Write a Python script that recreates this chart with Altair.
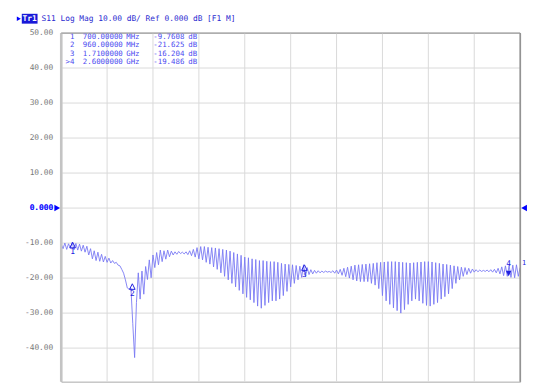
import altair as alt
import pandas as pd

# ---------------- data ----------------
START_MHZ = 650
STOP_MHZ = 2650

s11_db = [
    -10.3, -11.6, -10.0, -11.8, -10.2, -11.5, -9.8, -11.9, -10.1, -12.0,
    -10.3, -12.3, -10.6, -12.6, -10.9, -13.4, -11.6, -14.5, -12.2, -15.0,
    -12.6, -15.2, -13.2, -15.4, -13.8, -15.5, -14.3, -15.7, -15.0, -15.8,
    -15.5, -16.3, -16.5, -17.5, -18.6, -20.5, -22.8, -23.2, -22.9, -33.0,
    -42.7, -27.0, -18.5, -26.0, -18.0, -24.6, -16.7, -20.4, -14.8, -19.9,
    -13.4, -17.0, -12.7, -16.2, -12.0, -15.3, -12.2, -14.6, -12.0, -13.9,
    -12.3, -13.4, -12.5, -13.2, -12.4, -13.0, -12.6, -13.1, -12.5, -13.3,
    -12.2, -13.6, -11.8, -14.0, -11.3, -14.5, -11.0, -14.8, -11.0, -15.5,
    -11.2, -16.0, -11.3, -16.8, -11.4, -17.5, -11.6, -18.5, -11.8, -19.5,
    -12.0, -20.5, -12.3, -21.5, -12.7, -22.5, -13.1, -23.5, -13.5, -24.5,
    -14.0, -25.5, -14.2, -26.2, -14.5, -27.0, -14.7, -28.0, -15.0, -28.6,
    -15.0, -27.8, -15.2, -27.0, -15.3, -26.5, -15.3, -26.5, -15.5, -26.0,
    -15.8, -25.0, -16.0, -23.8, -16.1, -22.5, -16.2, -21.5, -16.4, -20.5,
    -16.6, -19.8, -16.2, -19.5, -17.0, -19.0, -17.6, -18.8, -17.8, -18.6,
    -17.9, -18.5, -18.0, -18.4, -18.0, -18.3, -18.1, -18.4, -17.9, -18.6,
    -17.7, -18.8, -17.5, -19.2, -17.2, -19.6, -16.9, -20.0, -16.6, -20.5,
    -16.3, -20.8, -16.2, -21.0, -16.1, -21.0, -16.0, -21.0, -15.9, -21.5,
    -15.8, -22.0, -15.6, -23.0, -15.5, -25.0, -15.4, -26.5, -15.3, -27.5,
    -15.3, -28.5, -15.3, -29.3, -15.4, -30.0, -15.5, -29.0, -15.6, -27.5,
    -15.7, -26.5, -15.6, -26.0, -15.5, -26.5, -15.4, -27.2, -15.3, -27.8,
    -15.3, -28.0, -15.4, -27.5, -15.6, -27.0, -15.8, -26.0, -16.0, -25.3,
    -16.1, -24.5, -16.3, -23.0, -16.5, -21.5, -16.7, -20.5, -16.9, -19.5,
    -17.0, -19.0, -17.2, -18.6, -17.4, -18.3, -17.6, -18.2, -17.7, -18.1,
    -17.8, -18.1, -17.7, -18.2, -17.6, -18.3, -17.5, -18.5, -17.2, -18.8,
    -16.8, -19.3, -16.5, -19.5, -16.4, -19.8, -16.3, -19.9, -16.2, -19.5,
    -17.0,
]

marker_ids = ["1", "2", "3", "4"]
marker_table_ids = ["1", "2", "3", ">4"]
marker_freq_mhz = [700, 960, 1710, 2600]
marker_db = [-9.7608, -21.625, -16.204, -19.486]
marker_freq_txt = ["700.00000", "960.00000", "1.7100000", "2.6000000"]
marker_unit_txt = ["MHz", "MHz", "GHz", "GHz"]
active_marker = "4"

y_ticks = [50, 40, 30, 20, 10, 0, -10, -20, -30, -40]
y_tick_labels = ["50.00", "40.00", "30.00", "20.00", "10.00", "0.000",
                 "-10.00", "-20.00", "-30.00", "-40.00"]
x_grid = [850, 1050, 1250, 1450, 1650, 1850, 2050, 2250, 2450]

header_text = "S11 Log Mag 10.00 dB/ Ref 0.000 dB [F1 M]"
trace_tag = "Tr1"

# ---------------- layout / style ----------------
W = 466
H = 354
PX_PER_10DB = 35.55
Y_BOTTOM = 50 - H / PX_PER_10DB * 10

BLUE = "#2020e0"
TRACE = "#7878f4"
GRID = "#d9d9d9"
MONO = "DejaVu Sans Mono"

n = len(s11_db)
step = (STOP_MHZ - START_MHZ) / (n - 1)
freqs = [START_MHZ + i * step for i in range(n)]
trace_df = pd.DataFrame({"f": freqs, "db": s11_db})

x_scale = alt.Scale(domain=[START_MHZ, STOP_MHZ], nice=False, zero=False)
y_scale = alt.Scale(domain=[Y_BOTTOM, 50], nice=False, zero=False)

X = lambda: alt.X("f:Q", scale=x_scale, axis=None)
Y = lambda: alt.Y("db:Q", scale=y_scale, axis=None)

# grid lines
ygrid_df = pd.DataFrame({"db": y_ticks, "lbl": y_tick_labels})
xgrid_df = pd.DataFrame({"f": x_grid})
ygrid = alt.Chart(ygrid_df).mark_rule(color=GRID, strokeWidth=1).encode(
    y=Y(), x=alt.value(0), x2=alt.value(W))
xgrid = alt.Chart(xgrid_df).mark_rule(color=GRID, strokeWidth=1).encode(
    x=X(), y=alt.value(0), y2=alt.value(H))
ylabels = alt.Chart(ygrid_df).mark_text(font=MONO, fontSize=8, align="right", baseline="middle").encode(
    y=Y(), x=alt.value(-8), text="lbl:N",
    color=alt.condition("datum.db == 0", alt.value("#1c1cff"), alt.value("#7a7a7a")),
)
ylabel0 = alt.Chart(ygrid_df[ygrid_df["db"] == 0]).mark_text(
    font=MONO, fontSize=8, align="right", baseline="middle", fontWeight="bold", color="#1c1cff").encode(
    y=Y(), x=alt.value(-8), text="lbl:N")

trace = alt.Chart(trace_df).mark_line(color=TRACE, strokeWidth=0.9, clip=True).encode(x=X(), y=Y())

one = pd.DataFrame({"k": [0]})

# plot frame
left_edge = alt.Chart(one).mark_rule(color="#c4c4c4", strokeWidth=2.5).encode(
    x=alt.value(0), y=alt.value(0), y2=alt.value(H))
right_edge = alt.Chart(one).mark_rule(color="#8f8f8f", strokeWidth=1.5).encode(
    x=alt.value(W), y=alt.value(0), y2=alt.value(H))
top_edge = alt.Chart(one).mark_rule(color="#9a9a9a", strokeWidth=1).encode(
    x=alt.value(0), x2=alt.value(W), y=alt.value(0))

# reference-level arrows at 0 dB
ref_df = pd.DataFrame({"db": [0]})
ref_left = alt.Chart(ref_df).mark_point(shape="triangle-right", filled=True, color="#0000ff",
                                        size=45, opacity=1).encode(x=alt.value(-4), y=Y())
ref_right = alt.Chart(ref_df).mark_point(shape="triangle-left", filled=True, color="#0000ff",
                                         size=45, opacity=1).encode(x=alt.value(W + 4), y=Y())

# markers on the trace
mk_df = pd.DataFrame({"f": marker_freq_mhz, "db": marker_db, "id": marker_ids})
inactive = mk_df[mk_df["id"] != active_marker]
active = mk_df[mk_df["id"] == active_marker]

mk_tri = alt.Chart(inactive).mark_point(
    shape="M0,0 L-1,2 L1,2 Z", filled=False, size=32, stroke=BLUE, strokeWidth=1, opacity=1
).encode(x=X(), y=Y())
mk_lbl = alt.Chart(inactive).mark_text(font=MONO, fontSize=8, color=BLUE, dy=10).encode(
    x=X(), y=Y(), text="id:N")
ac_tri = alt.Chart(active).mark_point(
    shape="M0,0 L-1,-2 L1,-2 Z", filled=True, size=32, color=BLUE, opacity=1
).encode(x=X(), y=Y())
ac_lbl = alt.Chart(active).mark_text(font=MONO, fontSize=8, color=BLUE, dy=-12).encode(
    x=X(), y=Y(), text="id:N")

end_tag = alt.Chart(pd.DataFrame({"t": ["1"]})).mark_text(
    font=MONO, fontSize=7, color=BLUE, align="left").encode(
    x=alt.value(W + 2), y=alt.value(233.5), text="t:N")

# marker table
table_layers = []
TBL_COLOR = "#4a4af0"
for k in range(len(marker_ids)):
    yy = 4 + 8.6 * k
    row = pd.DataFrame({
        "id": [marker_table_ids[k]],
        "freq": [marker_freq_txt[k]],
        "unit": [marker_unit_txt[k]],
        "val": [f"{marker_db[k]:.5g}"],
        "db": ["dB"],
    })
    rc = alt.Chart(row)
    table_layers += [
        rc.mark_text(font=MONO, fontSize=7.5, color=TBL_COLOR, align="right").encode(
            x=alt.value(13.5), y=alt.value(yy), text="id:N"),
        rc.mark_text(font=MONO, fontSize=7.5, color=TBL_COLOR, align="left").encode(
            x=alt.value(22), y=alt.value(yy), text="freq:N"),
        rc.mark_text(font=MONO, fontSize=7.5, color=TBL_COLOR, align="left").encode(
            x=alt.value(66), y=alt.value(yy), text="unit:N"),
        rc.mark_text(font=MONO, fontSize=7.5, color=TBL_COLOR, align="left").encode(
            x=alt.value(93.5), y=alt.value(yy), text="val:N"),
        rc.mark_text(font=MONO, fontSize=7.5, color=TBL_COLOR, align="left").encode(
            x=alt.value(129), y=alt.value(yy), text="db:N"),
    ]

# header line
hdr_df = pd.DataFrame({"tag": [trace_tag], "hdr": [header_text]})
hdr_arrow = alt.Chart(hdr_df).mark_point(shape="triangle-right", filled=True, color="#0000ff",
                                         size=22, opacity=1).encode(
    x=alt.value(-43), y=alt.value(-14.5))
hdr_box = alt.Chart(hdr_df).mark_rect(color="#1818d8").encode(
    x=alt.value(-40), x2=alt.value(-24), y=alt.value(-19.5), y2=alt.value(-9.5))
hdr_tag = alt.Chart(hdr_df).mark_text(font=MONO, fontSize=8, color="white", fontWeight="bold").encode(
    x=alt.value(-32), y=alt.value(-14.5), text="tag:N")
hdr_txt = alt.Chart(hdr_df).mark_text(font=MONO, fontSize=8, color="#2a2ad0", align="left").encode(
    x=alt.value(-20), y=alt.value(-14.5), text="hdr:N")

chart = alt.layer(
    ygrid, xgrid, ylabels, ylabel0, trace, left_edge, right_edge, top_edge, ref_left, ref_right,
    mk_tri, mk_lbl, ac_tri, ac_lbl, end_tag,
    *table_layers, hdr_arrow, hdr_box, hdr_tag, hdr_txt,
).properties(
    width=W, height=H,
    autosize=alt.AutoSizeParams(type="none"),
    padding={"left": 54, "top": 22.5, "right": 9, "bottom": 0},
    background="white",
).configure_view(stroke="#a8a8a8", strokeWidth=1)

chart.save("out.html", embed_options={"renderer": "svg", "actions": False})
